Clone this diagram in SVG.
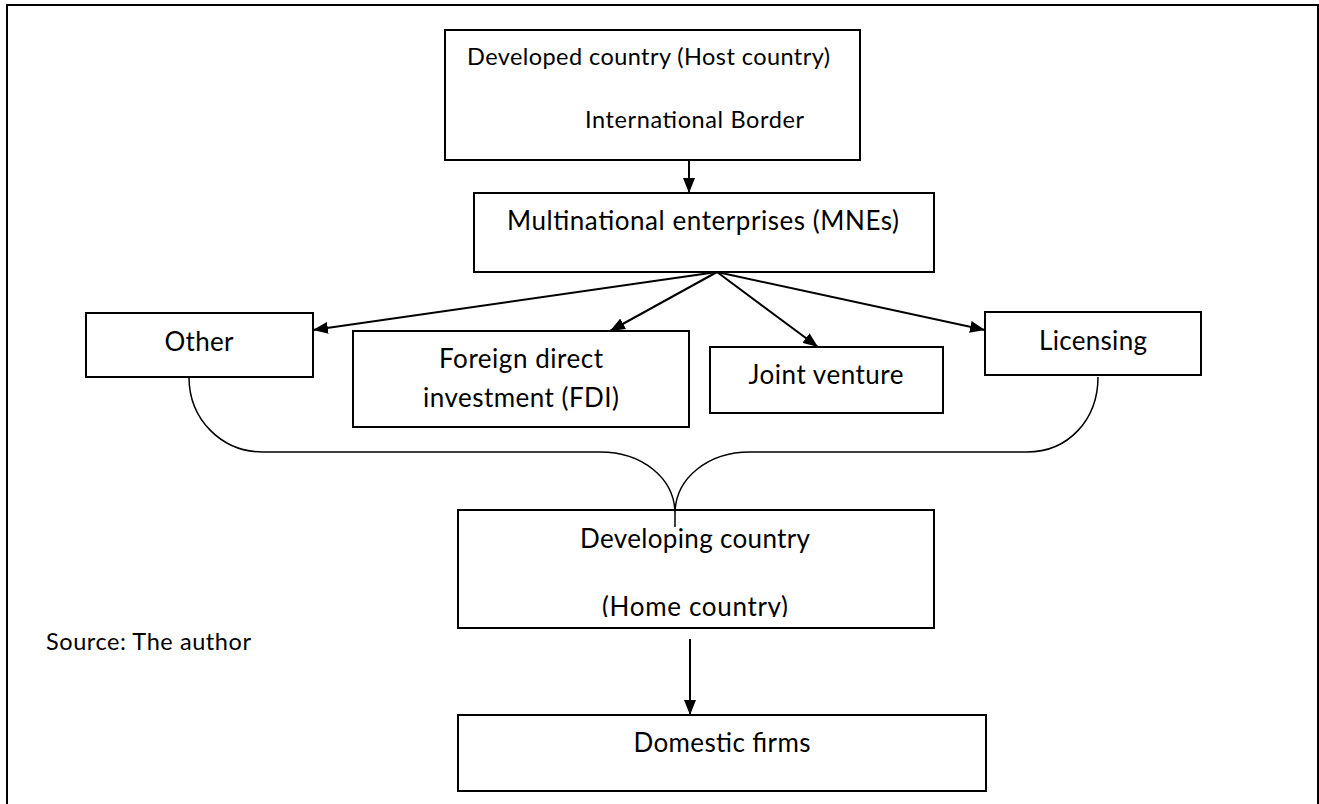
<svg xmlns="http://www.w3.org/2000/svg" width="1319" height="804" viewBox="0 0 1319 804">
  <defs>
    <marker id="ah" viewBox="0 0 15 12" refX="15" refY="6" markerWidth="15" markerHeight="12" markerUnits="userSpaceOnUse" orient="auto">
      <path d="M0,0 L15,6 L0,12 z" fill="#000"/>
    </marker>
    <clipPath id="devClip">
      <rect x="458" y="510" width="476" height="107"/>
    </clipPath>
  </defs>
  <style>
    .box{fill:#fff;stroke:#000;stroke-width:2}
    .t{font-family:Lato,"Open Sans",sans-serif;font-size:26px;fill:#000}
    .s{font-size:23.5px}
    .c{text-anchor:middle}
    .arrow{stroke:#000;stroke-width:2;fill:none;marker-end:url(#ah)}
    .brace{stroke:#000;stroke-width:1.5;fill:none}
    .frame{stroke:#000;stroke-width:2;fill:none}
  </style>

  <rect width="1319" height="804" fill="#fff"/>
  <path class="frame" d="M7,812 V5 H1318 V812"/>

  <g id="host">
    <rect class="box" x="445" y="30" width="415" height="130"/>
    <text class="t s" x="467" y="65" textLength="363">Developed country (Host country)</text>
    <text class="t s" x="585" y="128" textLength="219">International Border</text>
  </g>

  <g id="mne">
    <rect class="box" x="474" y="193" width="460" height="79"/>
    <text class="t" x="507" y="230" textLength="392">Multinational enterprises (MNEs)</text>
  </g>

  <g id="other">
    <rect class="box" x="86" y="313" width="227" height="64"/>
    <text class="t c" x="199" y="351" textLength="69">Other</text>
  </g>

  <g id="fdi">
    <rect class="box" x="353" y="331" width="336" height="96"/>
    <text class="t c" x="521" y="368" textLength="164">Foreign direct</text>
    <text class="t c" x="521" y="407" textLength="196">investment (FDI)</text>
  </g>

  <g id="jv">
    <rect class="box" x="710" y="347" width="233" height="66"/>
    <text class="t c" x="826" y="384" textLength="155">Joint venture</text>
  </g>

  <g id="licensing">
    <rect class="box" x="985" y="312" width="216" height="63"/>
    <text class="t c" x="1093" y="350" textLength="108">Licensing</text>
  </g>

  <g id="developing">
    <rect class="box" x="458" y="510" width="476" height="118"/>
    <g clip-path="url(#devClip)">
      <text class="t c" x="695" y="548" textLength="230">Developing country</text>
      <text class="t c" x="695" y="616" textLength="186">(Home country)</text>
    </g>
  </g>

  <g id="source">
    <text class="t s" x="46" y="650" textLength="205">Source: The author</text>
  </g>

  <g id="domestic">
    <rect class="box" x="458" y="715" width="528" height="76"/>
    <text class="t c" x="722" y="752" textLength="177">Domestic firms</text>
  </g>

  <g id="connectors">
    <path class="arrow" d="M689,160 L689,193"/>
    <path class="arrow" d="M717,272 L313,330"/>
    <path class="arrow" d="M717,272 L610,331"/>
    <path class="arrow" d="M717,272 L818,347"/>
    <path class="arrow" d="M717,272 L985,330"/>
    <path class="brace" d="M189,377 C189,420 222,452 263,452 L600,452 C642,452 675,478 675,514 L675,527 M675,514 C675,478 708,452 750,452 L1027,452 C1068,452 1098,420 1098,377"/>
    <path class="arrow" d="M690,639 L690,715"/>
  </g>
</svg>
